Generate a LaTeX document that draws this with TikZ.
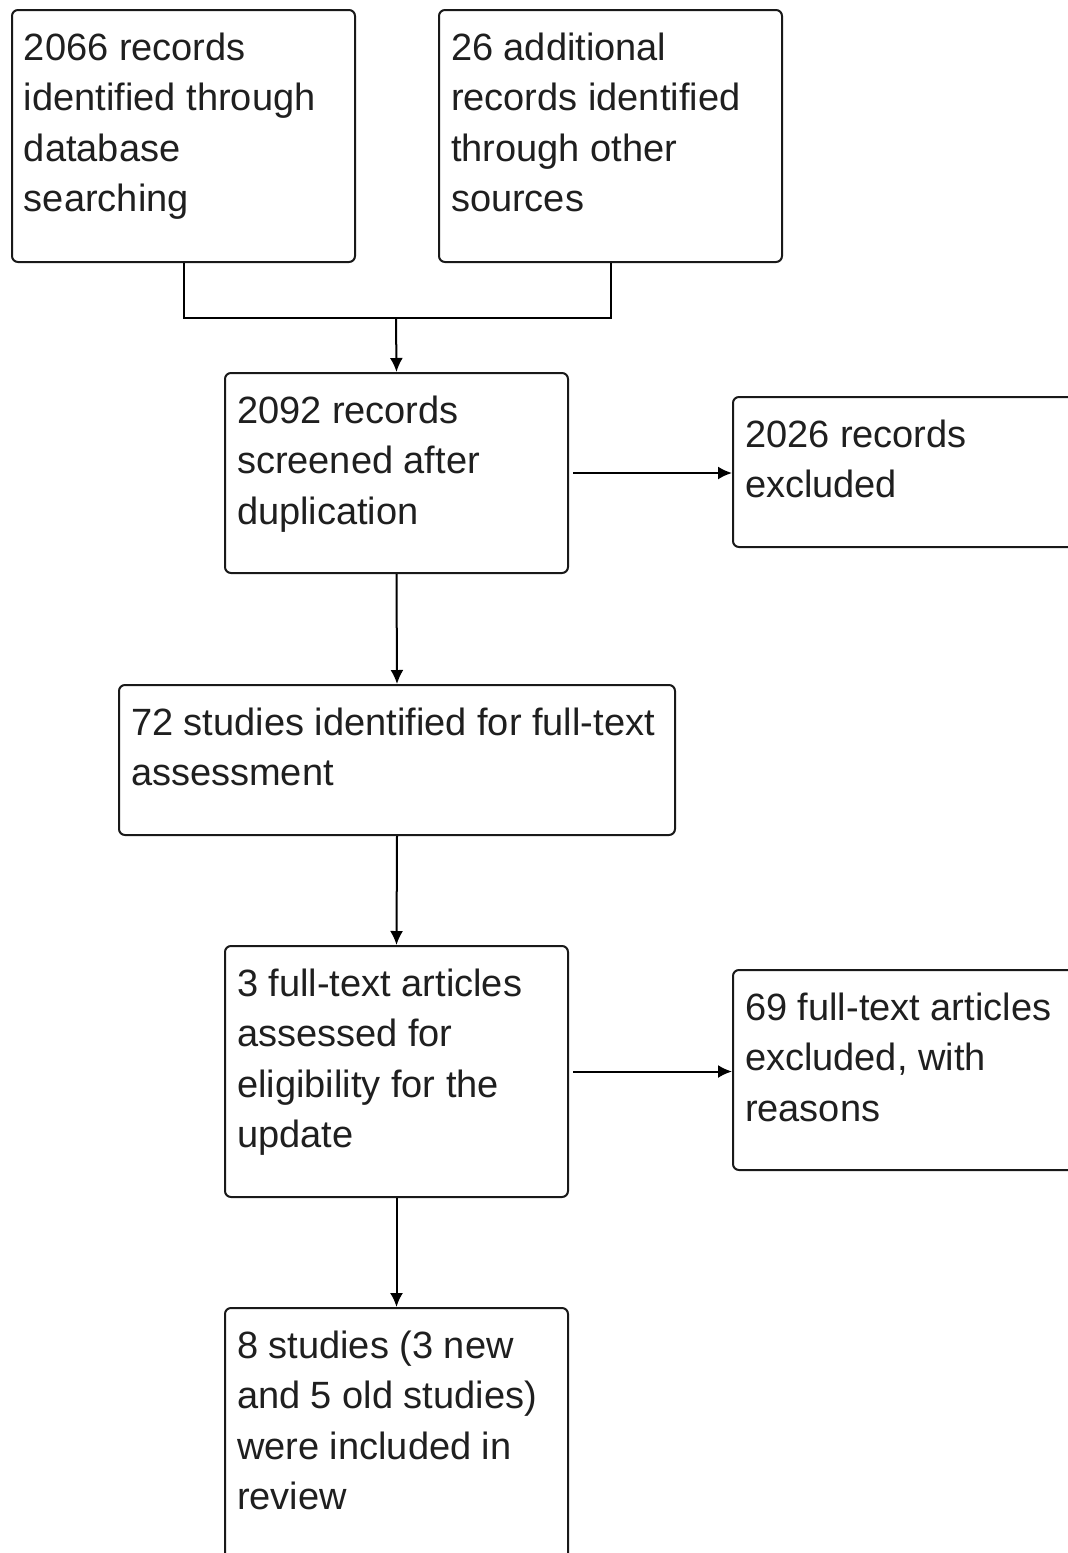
\documentclass[tikz,border=0pt]{standalone}
\usepackage{fontspec}
\setmainfont{Liberation Sans}
\usetikzlibrary{arrows.meta}
\newcommand\bxtext[3]{\parbox[c][#2][t]{#1}{\raggedright\leftskip=12pt\fontsize{38}{50.5}\selectfont\rule{0pt}{50pt}#3}}
\tikzset{
  flowbox/.style={draw=black!90, line width=2pt, rounded corners=6pt, anchor=north west, inner sep=0pt, align=left, text=black!88},
  conn/.style={draw=black, line width=2pt},
  arr/.style={conn, -{Latex[length=14pt,width=13pt]}}
}
\begin{document}
\begin{tikzpicture}[x=1pt,y=-1pt]
\useasboundingbox (0,0) rectangle (1068,1553);
\clip (0,0) rectangle (1068,1553);
\fill[white] (0,0) rectangle (1068,1553);
\node[flowbox] (A) at (11,9) {\bxtext{343pt}{252pt}{2066 records\\identified through\\database\\searching}};
\node[flowbox] (B) at (438,9) {\bxtext{343pt}{252pt}{26 additional\\records identified\\through other\\sources}};
\node[flowbox] (C) at (224,372) {\bxtext{343pt}{200pt}{2092 records\\screened after\\duplication}};
\node[flowbox] (D) at (732,396) {\bxtext{420pt}{150pt}{2026 records\\excluded}};
\node[flowbox] (E) at (118,684) {\bxtext{556pt}{150pt}{72 studies identified for full-text\\assessment}};
\node[flowbox] (F) at (224,945) {\bxtext{343pt}{251pt}{3 full-text articles\\assessed for\\eligibility for the\\update}};
\node[flowbox] (G) at (732,969) {\bxtext{420pt}{200pt}{69 full-text articles\\excluded, with\\reasons}};
\node[flowbox] (H) at (224,1307) {\bxtext{343pt}{400pt}{8 studies (3 new\\and 5 old studies)\\were included in\\review}};
\coordinate (J) at (396,318);
\draw[conn] (A.south) -- (A.south |- J) -- (B.south |- J) -- (B.south);
\draw[arr] (J) -- (C.north);
\draw[arr, shorten <=4pt] (C.east) -- (D.west |- C.east);
\draw[arr] (C.south) -- (E.north);
\draw[arr] (E.south) -- (F.north);
\draw[arr, shorten <=4pt] (F.east) -- (G.west |- F.east);
\draw[arr] (F.south) -- (H.north);
\end{tikzpicture}
\end{document}
